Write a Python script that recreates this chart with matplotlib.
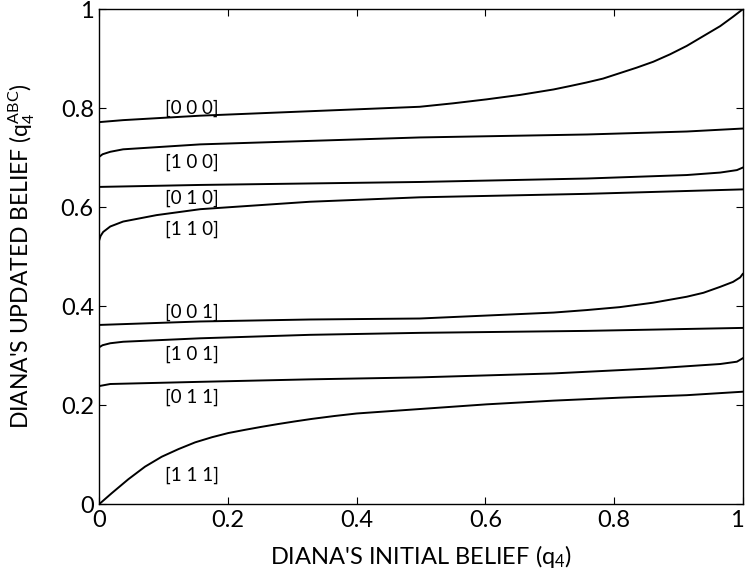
import matplotlib
matplotlib.use("Agg")
import matplotlib.pyplot as plt
import matplotlib.transforms as mtransforms

x_000 = [0, 0.037, 0.157, 0.327, 0.498, 0.550, 0.602, 0.654, 0.706, 0.732, 0.757,
         0.783, 0.809, 0.835, 0.861, 0.887, 0.913, 0.939, 0.965, 0.985, 1.0]
y_000 = [0.772, 0.776, 0.785, 0.794, 0.803, 0.810, 0.818, 0.827, 0.838, 0.845, 0.852,
         0.860, 0.871, 0.882, 0.894, 0.909, 0.926, 0.946, 0.966, 0.985, 1.0]

x_100 = [0, 0.005, 0.017, 0.037, 0.157, 0.327, 0.498, 0.758, 0.913, 1.0]
y_100 = [0.702, 0.707, 0.712, 0.717, 0.727, 0.734, 0.741, 0.747, 0.753, 0.759]

x_010 = [0, 0.157, 0.327, 0.498, 0.758, 0.913, 0.965, 0.991, 1.0]
y_010 = [0.641, 0.645, 0.648, 0.651, 0.658, 0.665, 0.670, 0.675, 0.680]

x_110 = [0, 0.002, 0.006, 0.017, 0.037, 0.089, 0.157, 0.327, 0.498, 0.758, 1.0]
y_110 = [0.534, 0.542, 0.550, 0.561, 0.571, 0.584, 0.596, 0.611, 0.620, 0.627, 0.636]

x_001 = [0, 0.157, 0.327, 0.498, 0.602, 0.706, 0.757, 0.809, 0.861, 0.913, 0.939,
         0.965, 0.985, 0.996, 1.0]
y_001 = [0.362, 0.369, 0.373, 0.375, 0.381, 0.387, 0.392, 0.398, 0.407, 0.419, 0.427,
         0.439, 0.449, 0.458, 0.465]

x_101 = [0, 0.005, 0.017, 0.037, 0.157, 0.327, 0.498, 0.758, 1.0]
y_101 = [0.317, 0.321, 0.325, 0.328, 0.335, 0.342, 0.346, 0.350, 0.356]

x_011 = [0, 0.017, 0.157, 0.327, 0.498, 0.706, 0.861, 0.965, 0.991, 1.0]
y_011 = [0.2385, 0.2426, 0.247, 0.252, 0.256, 0.264, 0.274, 0.283, 0.2877, 0.2945]

x_111 = [0, 0.019, 0.045, 0.071, 0.097, 0.123, 0.149, 0.175, 0.2005, 0.2265, 0.252,
         0.278, 0.304, 0.330, 0.366, 0.400, 0.498, 0.602, 0.706, 0.809, 0.913, 1.0]
y_111 = [0, 0.0216, 0.050, 0.0755, 0.0956, 0.111, 0.1247, 0.135, 0.1435, 0.150, 0.156,
         0.1617, 0.167, 0.172, 0.178, 0.183, 0.192, 0.2015, 0.209, 0.215, 0.220, 0.227]

curves = [(x_000, y_000), (x_100, y_100), (x_010, y_010), (x_110, y_110),
          (x_001, y_001), (x_101, y_101), (x_011, y_011), (x_111, y_111)]

labels = ["[0 0 0]", "[1 0 0]", "[0 1 0]", "[1 1 0]",
          "[0 0 1]", "[1 0 1]", "[0 1 1]", "[1 1 1]"]
label_y = [0.800, 0.691, 0.618, 0.556, 0.3875, 0.303, 0.216, 0.059]

ticks = [0, 0.2, 0.4, 0.6, 0.8, 1]
tick_labels = ["0", "0.2", "0.4", "0.6", "0.8", "1"]

plt.rcParams["font.family"] = ["Lato", "DejaVu Sans"]
plt.rcParams["mathtext.fontset"] = "custom"
plt.rcParams["mathtext.rm"] = "Lato"
plt.rcParams["mathtext.it"] = "Lato"

fig = plt.figure(figsize=(7.48, 5.86), dpi=100)
ax = fig.add_axes([0.1328, 0.1399, 0.8601, 0.8442])

for xs, ys in curves:
    ax.plot(xs, ys, color="black", linewidth=1.4)

for lab, ly in zip(labels, label_y):
    ax.text(0.102, ly, lab, fontsize=13.5, va="center", ha="left")

ax.set_xlim(0, 1)
ax.set_ylim(0, 1)
ax.set_xticks(ticks)
ax.set_xticklabels(tick_labels)
ax.set_yticks(ticks)
ax.set_yticklabels(tick_labels)
ax.tick_params(direction="in", length=5, width=0.8, top=True, right=True,
               labelsize=17, pad=4)
for s in ax.spines.values():
    s.set_linewidth(1.0)

# last x tick label sits on the figure edge, nudge it in a little
last = ax.get_xticklabels()[-1]
last.set_transform(last.get_transform() +
                   mtransforms.ScaledTranslation(-4 / 72, 0, fig.dpi_scale_trans))

ax.set_xlabel(r"DIANA'S INITIAL BELIEF (q$_4$)", fontsize=17, labelpad=9)
ax.set_ylabel(r"DIANA'S UPDATED BELIEF (q$_4^{\mathrm{ABC}}$)", fontsize=16.5)
ax.yaxis.set_label_coords(-0.097, 0.5)

fig.savefig("out.png", dpi=100)
